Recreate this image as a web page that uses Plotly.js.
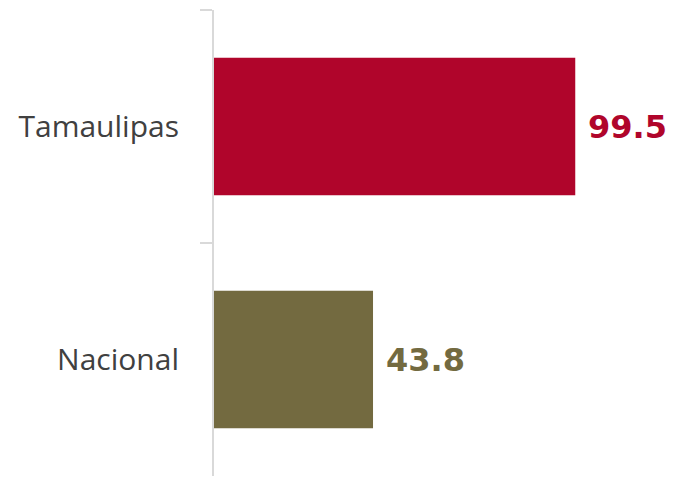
<!DOCTYPE html>
<html>
<head>
<meta charset="utf-8">
<script src="https://cdn.plot.ly/plotly-3.0.1.min.js"></script>
<style>html,body{margin:0;padding:0;background:#fff;}#chart{width:674px;height:478px;}</style>
</head>
<body>
<div id="chart"></div>
<script>
const categories = ["Tamaulipas", "Nacional"];
const values = [99.5, 43.8];
const barColors = ["#b0052b", "#736a40"];
const valueLabels = ["99.5", "43.8"];

const trace = {
  type: "bar",
  orientation: "h",
  y: categories,
  x: values,
  marker: {color: barColors},
  hoverinfo: "none"
};

const annotations = categories.map((c, i) => ({
  x: values[i], y: c, xref: "x", yref: "y",
  text: "<b>" + valueLabels[i] + "</b>",
  showarrow: false, xanchor: "left", yanchor: "middle", xshift: 11,
  font: {family: "DejaVu Sans", size: 32, color: barColors[i]}
}));

const layout = {
  width: 674, height: 478,
  margin: {l: 214, r: 0, t: 10, b: 2},
  paper_bgcolor: "#ffffff", plot_bgcolor: "#ffffff",
  showlegend: false,
  bargap: 0.41,
  xaxis: {range: [0, 126.7], visible: false, fixedrange: true},
  yaxis: {
    type: "category",
    categoryorder: "array", categoryarray: categories,
    autorange: "reversed",
    showline: true, linecolor: "#d9d9d9", linewidth: 2,
    ticks: "outside", tickson: "boundaries", ticklen: 12, tickcolor: "#d9d9d9", tickwidth: 2,
    tickfont: {family: "Open Sans", size: 30, color: "#404040"},
    ticklabelstandoff: 27,
    showgrid: false, zeroline: false
  },
  annotations: annotations
};

Plotly.newPlot("chart", [trace], layout, {displayModeBar: false, staticPlot: true});
</script>
</body>
</html>
